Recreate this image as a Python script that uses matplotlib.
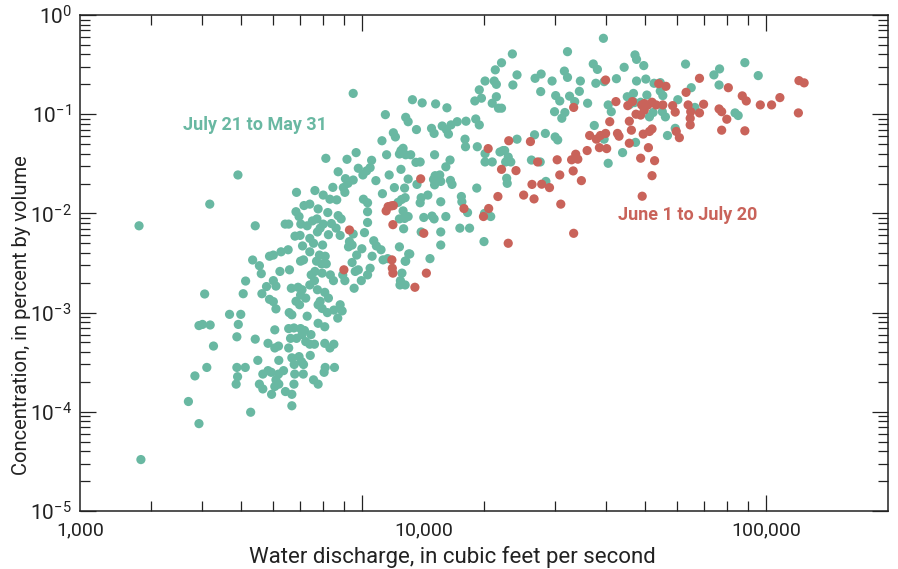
import matplotlib
matplotlib.use("Agg")
import matplotlib.pyplot as plt
from matplotlib.ticker import FixedLocator, NullFormatter, LogLocator

plt.rcParams['font.family'] = ['Roboto', 'DejaVu Sans']
plt.rcParams['mathtext.fontset'] = 'custom'
plt.rcParams['mathtext.rm'] = 'Roboto'
plt.rcParams['mathtext.it'] = 'Roboto'

# July 21 to May 31 samples: discharge (ft3/s), concentration (percent by volume)
teal_q = [2800, 2830, 4190, 4920, 5430, 4070, 5070, 5140, 5350, 5560, 5620, 4690, 5000, 3940, 4020,
          4200, 4930, 4890, 5430, 4280, 3850, 4120, 4890, 5130, 4910, 4870, 5510, 3710, 3940, 5290,
          6870, 7630, 8000, 8310, 8450, 8640, 8120, 8710, 9080, 9050, 9160, 7170, 7410, 7770, 6850,
          6970, 7040, 7300, 7520, 7720, 7860, 8000, 8210, 8380, 8610, 8710, 8860, 6440, 6570, 6810,
          7010, 7410, 7570, 7740, 7970, 8240, 8810, 9290, 7110, 7410, 7830, 7930, 8090, 7700, 5890,
          6020, 6290, 6550, 7030, 7150, 6600, 6250, 6110, 6020, 5640, 5790, 5890, 6020, 6110, 6670,
          7090, 6930, 7030, 7240, 6850, 6990, 7410, 7740, 7610, 7630, 7470, 7950, 8140, 8330, 8480,
          8070, 8240, 7860, 7770, 7950, 8190, 8500, 8810, 8910, 8690, 8070, 7770, 7300, 6590, 6690,
          6570, 6770, 6640, 6870, 7030, 7190, 7090, 7460, 7240, 7410, 7610, 8070, 8310, 8500, 6070,
          6070, 6200, 6570, 6690, 6780, 6970, 7070, 7430, 7150, 5840, 6110, 6380, 6210, 6770, 7140,
          7570, 7770, 8040, 8530, 6690, 6450, 6690, 5960, 5670, 5560, 5670, 5840, 5950, 6070, 6200,
          6210, 6800, 8090,
          9650, 10030, 10240, 10540, 10450, 9770, 9490, 9210, 8970, 10800, 10060, 10300, 10300, 10300,
          10120, 9490, 9430, 9240, 9680, 9970, 9430, 8940, 9050, 9600, 9770, 9540, 9940, 10300, 10450,
          10570, 10670, 10830, 11120, 11250, 11550, 11210, 11650, 12000, 12500, 12250, 12760, 12610,
          12720, 12350, 12980, 12650, 12720, 12980, 13650, 13570, 13900, 12460, 12350, 12610, 12800,
          13170, 12460, 11480, 11180, 11930, 12070, 12800, 12980, 13610, 12350, 12530, 12760, 13020,
          12420, 12760, 12390, 9490,
          13300, 14060, 15180, 16190, 11400, 14830, 15050, 15760, 16140, 16330, 16570, 17170, 18050,
          19080, 19470, 17950, 18000, 19250, 15090, 15140, 15000, 15350, 15540, 16480, 16090, 16670,
          16520, 13980, 13900, 14520, 15090, 15630, 15630, 14190, 14870, 15050, 16090, 15630, 15630,
          13980, 14700, 13100, 12800, 17580, 17630, 18210, 17430, 18420, 19190, 20120, 20120, 20960,
          21910, 22500, 22960, 22630, 22300, 23300, 22760, 22830, 20060, 20780, 20000, 24140, 26680,
          28370, 30000, 30440, 26210, 27550, 28460, 18980, 19710, 20120, 19470, 20960, 21460, 21720,
          22100, 21200, 21460, 21330, 22100, 23510, 23580, 24140,
          39500, 32190, 26760, 27700, 29480, 31620, 32190, 34640, 37280, 38170, 37830, 39660, 42540,
          44460, 47290, 47710, 49710, 47710, 50300, 52720, 54620, 55420, 54620, 27630, 30090, 30800,
          32570, 33540, 34440, 36100, 31710, 29900, 31160, 37500, 39660, 40590, 44060, 47440, 47160,
          46880, 45250, 45930, 50600, 51350, 52410, 55260, 56240, 56910, 40590, 41310, 48840,
          63080, 65160, 74150, 76580, 76360, 88450, 95460, 60360, 66540, 83650, 85150, 59480]
teal_c = [0.0075, 3.3e-5, 0.0124, 0.0244, 0.0075, 0.00154, 0.00155, 0.00208, 0.00339, 0.00297, 0.00247,
          0.00096, 0.00096, 0.00074, 0.00076, 0.00075, 0.00076, 0.00057, 0.00054, 0.00046, 0.00023,
          0.00028, 0.00028, 0.00028, 0.000226, 0.00019, 0.00033, 0.000127, 7.6e-5, 9.9e-5,
          0.0163, 0.017, 0.0153, 0.0139, 0.0183, 0.0137, 0.0359, 0.0263, 0.0224, 0.0163, 0.0351, 0.012,
          0.0124, 0.0111, 0.0104, 0.0093, 0.0078, 0.0075, 0.0084, 0.0088, 0.0071, 0.0078, 0.0102, 0.0079,
          0.0071, 0.0095, 0.0088, 0.0078, 0.0078, 0.0059, 0.006, 0.0056, 0.005, 0.0065, 0.0048, 0.0061,
          0.006, 0.0052, 0.0047, 0.0041, 0.0038, 0.0031, 0.0037, 0.0033, 0.0037, 0.0038, 0.0041, 0.0043,
          0.0033, 0.0034, 0.0027, 0.0026, 0.00185, 0.0021, 0.00155, 0.00183, 0.00136, 0.00129, 0.00109,
          0.00176, 0.0017, 0.0018, 0.0015, 0.0014, 0.0013, 0.0012, 0.0019, 0.0017, 0.0021, 0.0026,
          0.0024, 0.0025, 0.0031, 0.0024, 0.0021, 0.0016, 0.0014, 0.0013, 0.0012, 0.0011, 0.001,
          0.00106, 0.0012, 0.00104, 0.00088, 0.00072, 0.00078, 0.00092, 0.001, 0.00095, 0.00069, 0.0007,
          0.00055, 0.00055, 0.00069, 0.00066, 0.0006, 0.0006, 0.00051, 0.00048, 0.00048, 0.00049,
          0.00044, 0.00048, 0.00067, 0.00044, 0.00046, 0.00044, 0.00035, 0.0003, 0.00036, 0.00032,
          0.00037, 0.0003, 0.00049, 0.00021, 0.00026, 0.00019, 0.00019, 0.00024, 0.00021, 0.00019,
          0.00025, 0.00028, 0.000115, 0.00016, 0.00015, 0.00015, 0.00024, 0.00019, 0.00017, 0.00026,
          0.00025, 0.00018, 0.00024, 0.00033, 0.00024, 0.00028,
          0.041, 0.0244, 0.0268, 0.0343, 0.0289, 0.0285, 0.0217, 0.0201, 0.0182, 0.0214, 0.0139, 0.0128,
          0.0104, 0.0081, 0.0064, 0.0062, 0.0048, 0.0046, 0.0038, 0.0044, 0.0032, 0.0024, 0.0021,
          0.0026, 0.0027, 0.00176, 0.0021, 0.0024, 0.0028, 0.0037, 0.0053, 0.0047, 0.0043, 0.0034,
          0.0035, 0.0158, 0.0244, 0.0182, 0.0138, 0.0129, 0.0144, 0.0106, 0.0089, 0.0088, 0.0093,
          0.007, 0.018, 0.0222, 0.0196, 0.0327, 0.033, 0.0278, 0.0397, 0.0453, 0.039, 0.039, 0.043,
          0.039, 0.054, 0.065, 0.059, 0.093, 0.084, 0.07, 0.0046, 0.0025, 0.0033, 0.0039, 0.0021,
          0.0019, 0.0019, 0.162,
          0.14, 0.13, 0.127, 0.116, 0.099, 0.072, 0.064, 0.076, 0.07, 0.063, 0.078, 0.084, 0.085, 0.0895,
          0.078, 0.056, 0.047, 0.047, 0.039, 0.024, 0.022, 0.0214, 0.0244, 0.0345, 0.0295, 0.0196,
          0.0215, 0.0144, 0.0128, 0.0153, 0.0194, 0.0131, 0.021, 0.0091, 0.0094, 0.0088, 0.0093,
          0.0065, 0.0048, 0.0065, 0.0035, 0.0039, 0.0033, 0.0148, 0.0131, 0.0102, 0.0071, 0.0071,
          0.018, 0.04, 0.033, 0.033, 0.0416, 0.043, 0.037, 0.033, 0.043, 0.033, 0.0226, 0.0201, 0.01,
          0.0093, 0.0052, 0.056, 0.062, 0.064, 0.059, 0.055, 0.0345, 0.033, 0.021, 0.136, 0.145,
          0.216, 0.176, 0.129, 0.15, 0.115, 0.115, 0.216, 0.2, 0.28, 0.33, 0.405, 0.197, 0.249,
          0.582, 0.427, 0.23, 0.254, 0.216, 0.272, 0.235, 0.216, 0.321, 0.283, 0.205, 0.213, 0.228,
          0.297, 0.396, 0.357, 0.309, 0.216, 0.226, 0.205, 0.208, 0.154, 0.171, 0.169, 0.154, 0.136,
          0.152, 0.134, 0.17, 0.129, 0.104, 0.106, 0.091, 0.077, 0.056, 0.032, 0.041, 0.052, 0.131,
          0.162, 0.15, 0.126, 0.156, 0.094, 0.104, 0.106, 0.094, 0.061, 0.124, 0.106, 0.132,
          0.32, 0.185, 0.249, 0.286, 0.197, 0.331, 0.245, 0.14, 0.117, 0.103, 0.097, 0.072]

# June 1 to July 20 samples
red_q = [9000, 9290, 11580, 11790, 11930, 11450, 11900, 11830, 11860, 11900, 13940, 14190, 14400,
         13490, 17840, 20480, 20540, 19940, 21650, 22100, 23030, 24000, 25070, 26060, 26290, 26600,
         27150, 27790, 29050, 22960, 40000, 33340, 30350, 30800, 33250, 32950, 33730, 34140, 34840,
         36000, 36520, 37940, 38840, 40000, 38610, 40240, 40950, 42420, 42800, 43180, 45790, 46330,
         45790, 45390, 46600, 47570, 48840, 48840, 49560, 51050, 51350, 52110, 52880, 52110, 49270,
         49850, 50900, 52110, 49850, 49130, 54140, 56410, 53350, 30980, 33340,
         63270, 68300, 80500, 58610, 59480, 64010, 64970, 64780, 64780, 68300, 69910, 76360, 77500,
         79800, 77500, 87160, 89180, 88450, 96600, 103000, 108000, 120400, 124000, 120000, 60900,
         59830, 55420]
red_c = [0.0027, 0.0068, 0.0117, 0.0119, 0.012, 0.0106, 0.0077, 0.0034, 0.0028, 0.0025, 0.0223,
         0.0063, 0.0025, 0.0018, 0.0112, 0.045, 0.0112, 0.0093, 0.0148, 0.0278, 0.054, 0.027, 0.0153,
         0.053, 0.0196, 0.014, 0.033, 0.0197, 0.0182, 0.005, 0.221, 0.117, 0.0347, 0.0244, 0.0268,
         0.0347, 0.0395, 0.0352, 0.0214, 0.043, 0.061, 0.056, 0.061, 0.064, 0.046, 0.045, 0.084,
         0.134, 0.064, 0.06, 0.085, 0.069, 0.051, 0.122, 0.134, 0.1, 0.098, 0.036, 0.063, 0.046,
         0.067, 0.071, 0.034, 0.024, 0.0149, 0.128, 0.124, 0.132, 0.11, 0.124, 0.203, 0.191, 0.124,
         0.0124, 0.0063,
         0.166, 0.23, 0.185, 0.122, 0.105, 0.124, 0.106, 0.091, 0.078, 0.103, 0.126, 0.113, 0.106,
         0.089, 0.069, 0.153, 0.136, 0.068, 0.124, 0.124, 0.147, 0.218, 0.207, 0.103, 0.058, 0.067,
         0.124]

x_labels = ["1,000", "10,000", "100,000"]
y_labels = ["$10^{-5}$", "$10^{-4}$", "$10^{-3}$", "$10^{-2}$", "$10^{-1}$", "$10^{0}$"]

teal = "#69b8a2"
red = "#c9635a"

fig = plt.figure(figsize=(8.98, 5.69), dpi=100)
ax = fig.add_axes([80 / 898, 58 / 569, 808 / 898, 496 / 569])

ax.scatter(teal_q, teal_c, s=44, color=teal, edgecolors="none", zorder=2)
ax.scatter(red_q, red_c, s=44, color=red, edgecolors="none", zorder=3)

ax.set_xscale("log")
ax.set_yscale("log")
ax.set_xlim(2000, 200000)
ax.set_ylim(1e-5, 1)

ax.xaxis.set_major_locator(FixedLocator([10000, 100000]))
ax.xaxis.set_minor_locator(FixedLocator([3000, 4000, 5000, 6000, 7000, 8000, 9000,
                                         20000, 30000, 40000, 50000, 60000, 70000, 80000, 90000]))
ax.xaxis.set_major_formatter(NullFormatter())
ax.xaxis.set_minor_formatter(NullFormatter())

ax.yaxis.set_major_locator(FixedLocator([1e-5, 1e-4, 1e-3, 1e-2, 1e-1, 1]))
ax.yaxis.set_minor_locator(LogLocator(base=10, subs=range(2, 10)))
ax.yaxis.set_minor_formatter(NullFormatter())
ax.set_yticklabels(y_labels)

ax.tick_params(which="both", direction="in", top=True, right=True, width=0.9, color="#222222")
ax.tick_params(which="major", length=11.5)
ax.tick_params(which="minor", length=7.5)
ax.tick_params(axis="y", which="major", labelsize=15, pad=6, labelcolor="#222222")
for sp in ax.spines.values():
    sp.set_linewidth(1.1)
    sp.set_color("#222222")

# x tick labels as printed on the original figure
for xf, lab in zip([0.0, 0.4257, 0.849], x_labels):
    ax.text(xf, -0.02, lab, transform=ax.transAxes, ha="center", va="top",
            fontsize=14, color="#222222")

fig.text(452 / 898, 6 / 569, "Water discharge, in cubic feet per second", ha="center",
         va="baseline", fontsize=16, color="#222222")
fig.text(22 / 898, 254 / 569, "Concentration, in percent by volume", ha="center",
         va="center", rotation=90, fontsize=14.5, color="#222222")

ax.text(0.1275, 0.778, "July 21 to May 31", transform=ax.transAxes, ha="left", va="center",
        fontsize=13, fontweight="bold", color=teal)
ax.text(0.666, 0.597, "June 1 to July 20", transform=ax.transAxes, ha="left", va="center",
        fontsize=13, fontweight="bold", color=red)

fig.savefig("out.png", dpi=100)
